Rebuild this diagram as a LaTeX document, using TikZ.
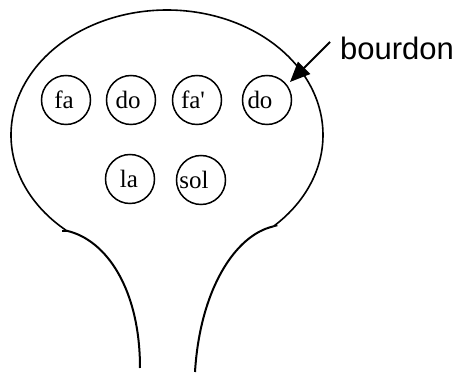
\documentclass[tikz,border=0pt]{standalone}
\usepackage{fontspec}
\setmainfont{Liberation Serif}
\newfontfamily\labelfont{Liberation Sans}
\usetikzlibrary{arrows.meta}
\tikzset{
  outline/.style={line width=1.6pt},
  neck/.style={line width=2pt},
  note/.style={circle,draw,line width=1.5pt,minimum size=49pt,inner sep=0pt,
    font=\fontsize{25}{25}\selectfont},
  pointer/.style={line width=2pt,-{Triangle[length=20pt,width=17pt]}}
}
\newcommand{\shifted}[2]{\hspace*{#1pt}#2\hspace*{-#1pt}}
\begin{document}
\begin{tikzpicture}[x=1pt,y=-1pt]
\useasboundingbox (0,0) rectangle (459,374);
% balloon outline
\draw[outline] plot[domain=130:407,samples=120,smooth]
  ({167+156*cos(\x)},{135+125*sin(\x)});
\coordinate (jl) at ({167+156*cos(130)},{135+125*sin(130)});
\coordinate (jr) at ({167+156*cos(407)},{135+125*sin(407)});
\coordinate (nl) at (140,368);
\coordinate (nr) at (195,372);
% neck
\draw[neck] (jl) .. controls (107,240) and (140,290) .. (nl);
\draw[neck] (jr) .. controls (235,235) and (200,290) .. (nr);
\draw[outline] (jl) -- ++(-5,0);
\draw[outline] (jr) -- ++(4,-1);
% notes
\node[note] (fa)  at (66,100)  {\shifted{-2}{fa}};
\node[note] (do1) at (131,100) {\shifted{-3}{do}};
\node[note] (fap) at (197,100) {\shifted{-4}{fa\textquotesingle}};
\node[note] (do2) at (267,100) {\shifted{-7}{do}};
\node[note] (la)  at (130,179) {\shifted{-1}{la}};
\node[note] (sol) at (201,180) {\shifted{-7}{sol}};
% label
\node[anchor=base west,inner sep=0pt,font=\labelfont\fontsize{31}{31}\selectfont]
  (bourdon) at (340,60) {bourdon};
\coordinate (tip) at (290,82);
\draw[pointer] ([xshift=-10pt,yshift=7pt]bourdon.west) -- (tip);
\end{tikzpicture}
\end{document}
